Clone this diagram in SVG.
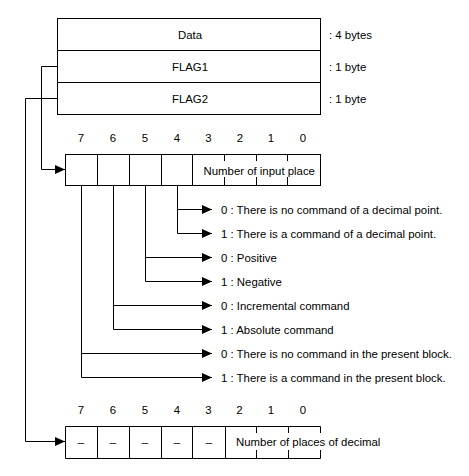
<svg xmlns="http://www.w3.org/2000/svg" width="469" height="476" viewBox="0 0 469 476">
<style>
text{font-family:"Liberation Sans",Arial,sans-serif;font-size:11.4px;fill:#000}
.c{text-anchor:middle}
.d{font-size:12px}
.ln{stroke:#000;stroke-width:1;fill:none}
</style>
<defs>
<marker id="ah" markerUnits="userSpaceOnUse" markerWidth="10" markerHeight="10" refX="10" refY="4.5" orient="auto">
<path d="M0,0 L10,4.5 L0,9 z" fill="#000"/>
</marker>
</defs>
<rect width="469" height="476" fill="#fff"/>

<g id="record">
<rect class="ln" x="57.5" y="18.5" width="263" height="96"/>
<line class="ln" x1="57.5" y1="50.5" x2="320.5" y2="50.5"/>
<line class="ln" x1="57.5" y1="82.5" x2="320.5" y2="82.5"/>
<text class="c" x="190" y="39">Data</text>
<text class="c" x="190" y="71">FLAG1</text>
<text class="c" x="190" y="103">FLAG2</text>
<text x="329" y="39">: 4 bytes</text>
<text x="329" y="71">: 1 byte</text>
<text x="329" y="103">: 1 byte</text>
</g>

<g id="flag1">
<g class="c d">
<text x="81" y="141.5">7</text><text x="113" y="141.5">6</text><text x="145" y="141.5">5</text><text x="177" y="141.5">4</text>
<text x="208.5" y="141.5">3</text><text x="240" y="141.5">2</text><text x="271" y="141.5">1</text><text x="303" y="141.5">0</text>
</g>
<rect class="ln" x="65.5" y="154.5" width="255" height="31"/>
<path class="ln" d="M97.5,154.5V185.5M129.5,154.5V185.5M161.5,154.5V185.5M192.5,154.5V185.5"/>
<path class="ln" d="M224.5,154.5V161M256.5,154.5V161M287.5,154.5V161M224.5,177V185.5M256.5,177V185.5M287.5,177V185.5"/>
<text x="203.5" y="175">Number of input place</text>
</g>

<g id="flag2">
<g class="c d">
<text x="81" y="414">7</text><text x="113" y="414">6</text><text x="145" y="414">5</text><text x="177" y="414">4</text>
<text x="208.5" y="414">3</text><text x="239.5" y="414">2</text><text x="271" y="414">1</text><text x="303" y="414">0</text>
</g>
<path class="ln" d="M320.5,426.5H65.5V458.5H320.5"/>
<path class="ln" d="M97.5,426.5V458.5M129.5,426.5V458.5M161.5,426.5V458.5M192.5,426.5V458.5M225.5,426.5V458.5"/>
<path class="ln" d="M256.5,426.5V433M288.5,426.5V433M320.5,426.5V433M256.5,450V458.5M288.5,450V458.5M320.5,450V458.5"/>
<g class="c">
<text x="81" y="446">–</text><text x="113" y="446">–</text><text x="145" y="446">–</text><text x="177" y="446">–</text><text x="209" y="446">–</text>
</g>
<text x="236" y="446">Number of places of decimal</text>
</g>

<g id="labels">
<text x="221" y="213.5">0 : There is no command of a decimal point.</text>
<text x="221" y="237.5">1 : There is a command of a decimal point.</text>
<text x="221" y="261.5">0 : Positive</text>
<text x="221" y="285.5">1 : Negative</text>
<text x="221" y="309.5">0 : Incremental command</text>
<text x="221" y="333.5">1 : Absolute command</text>
<text x="221" y="357.5">0 : There is no command in the present block.</text>
<text x="221" y="381.5">1 : There is a command in the present block.</text>
</g>

<g id="connectors">
<path class="ln" d="M57.5,66.5H41.5V169.5H65" marker-end="url(#ah)"/>
<path class="ln" d="M57.5,98.5H25.5V441.5H65" marker-end="url(#ah)"/>
<path class="ln" d="M177.5,185.5V233.5"/>
<path class="ln" d="M177.5,209.5H212" marker-end="url(#ah)"/>
<path class="ln" d="M177.5,233.5H212" marker-end="url(#ah)"/>
<path class="ln" d="M145.5,185.5V281.5"/>
<path class="ln" d="M145.5,257.5H212" marker-end="url(#ah)"/>
<path class="ln" d="M145.5,281.5H212" marker-end="url(#ah)"/>
<path class="ln" d="M113.5,185.5V329.5"/>
<path class="ln" d="M113.5,305.5H212" marker-end="url(#ah)"/>
<path class="ln" d="M113.5,329.5H212" marker-end="url(#ah)"/>
<path class="ln" d="M81.5,185.5V377.5"/>
<path class="ln" d="M81.5,353.5H212" marker-end="url(#ah)"/>
<path class="ln" d="M81.5,377.5H212" marker-end="url(#ah)"/>
</g>
</svg>
